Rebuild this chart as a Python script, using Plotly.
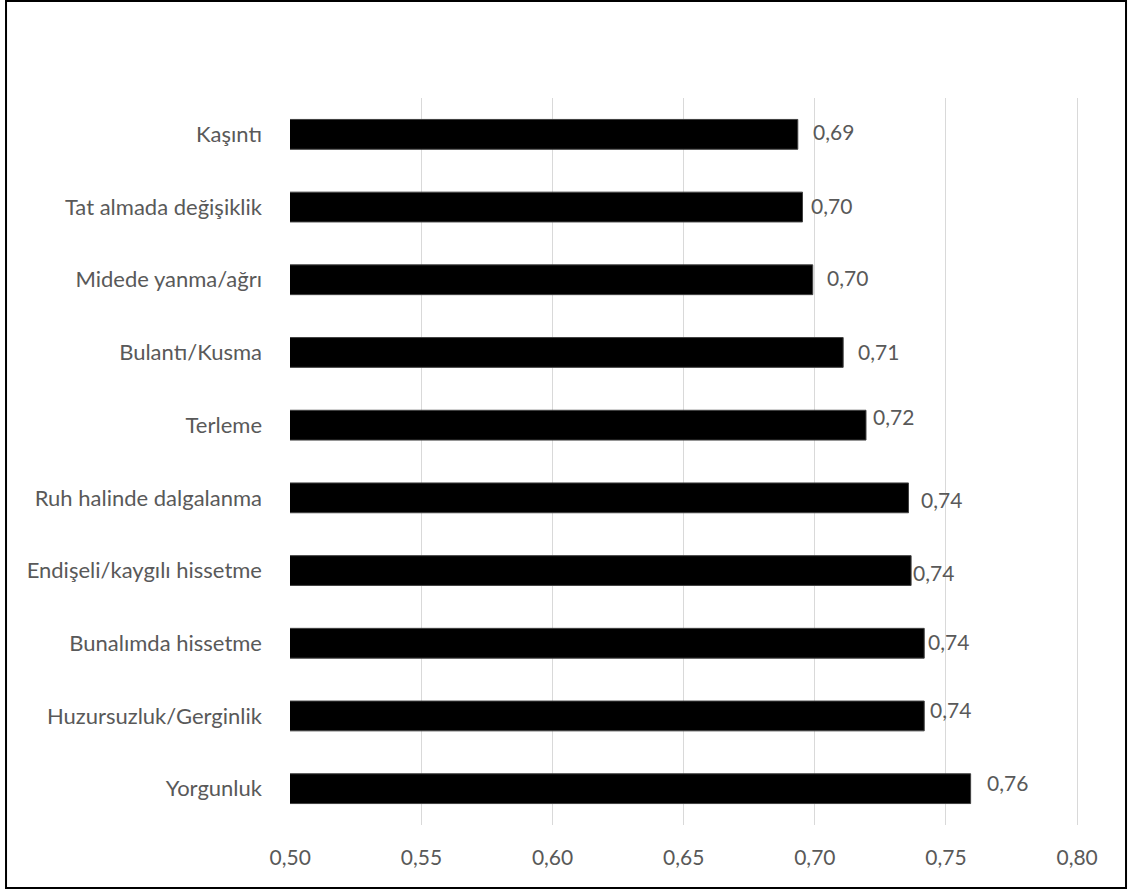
import plotly.graph_objects as go

categories = ["Kaşıntı", "Tat almada değişiklik", "Midede yanma/ağrı", "Bulantı/Kusma",
              "Terleme", "Ruh halinde dalgalanma", "Endişeli/kaygılı hissetme",
              "Bunalımda hissetme", "Huzursuzluk/Gerginlik", "Yorgunluk"]
values = [0.6935, 0.6953, 0.6992, 0.7108, 0.7195, 0.7357, 0.7367, 0.7417, 0.7417, 0.7594]
value_labels = ["0,69", "0,70", "0,70", "0,71", "0,72", "0,74", "0,74", "0,74", "0,74", "0,76"]
tick_vals = [0.50, 0.55, 0.60, 0.65, 0.70, 0.75, 0.80]
tick_text = ["0,50", "0,55", "0,60", "0,65", "0,70", "0,75", "0,80"]

# label offsets (styling, px) imitating the manually placed Excel labels
label_dx = [13, 6, 12, 13, 5, 11, 0, 2, 4, 14]
label_dy = [3, 2, 2, 1, 9, -2, -2, 2, 6, 6]

TXT = "#595959"
FONT = "Lato"
FS = 22

fig = go.Figure()
fig.add_trace(go.Bar(
    y=categories, x=values, orientation="h",
    marker=dict(color="#000000", line=dict(color="#404040", width=1)),
    hoverinfo="x+y",
))

for c, v, t, dx, dy in zip(categories, values, value_labels, label_dx, label_dy):
    fig.add_annotation(x=v, y=c, xref="x", yref="y", text=t, showarrow=False,
                       xanchor="left", yanchor="middle", xshift=dx, yshift=dy,
                       font=dict(family=FONT, size=FS - 1, color=TXT))

fig.add_shape(type="rect", xref="paper", yref="paper",
              x0=-0.3572, x1=1.0516, y0=-0.0867, y1=1.1334,
              line=dict(color="#000000", width=2), fillcolor="rgba(0,0,0,0)")

fig.update_layout(
    width=1128, height=891,
    margin=dict(l=290, r=43, t=98, b=66),
    paper_bgcolor="white", plot_bgcolor="white",
    showlegend=False, bargap=0.59,
    font=dict(family=FONT, size=FS, color=TXT),
    xaxis=dict(range=[0.4999, 0.803], tickvals=tick_vals, ticktext=tick_text,
               showgrid=True, gridcolor="#d9d9d9", gridwidth=1,
               zeroline=False, showline=False, ticks="", ticklabelstandoff=18,
               tickfont=dict(family=FONT, size=FS - 1, color=TXT)),
    yaxis=dict(autorange="reversed", showgrid=False, zeroline=False, showline=False,
               ticks="", ticklabelstandoff=27,
               tickfont=dict(family=FONT, size=FS, color=TXT)),
)

fig.write_html("out.html")
